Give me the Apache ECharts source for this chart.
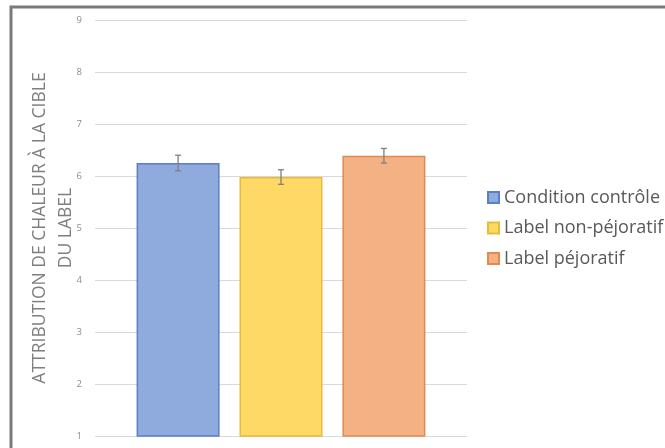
<!DOCTYPE html>
<html>
<head>
<meta charset="utf-8">
<script src="https://cdn.jsdelivr.net/npm/echarts@6/dist/echarts.min.js"></script>
<style>html,body{margin:0;padding:0;background:#fff}#c{width:665px;height:448px}</style>
</head>
<body>
<div id="c"></div>
<script>
const categories = [''];
const seriesNames = ['Condition contrôle', 'Label non-péjoratif', 'Label péjoratif'];
const means = [6.25, 5.98, 6.39];
const errors = [0.15, 0.14, 0.14];
const yTicks = [1, 9, 1]; // min, max, interval
const fills = ['#8faadc', '#ffd966', '#f4b183'];
const borders = ['#5a7fc6', '#e4bb3a', '#e08a52'];

const chart = echarts.init(document.getElementById('c'), null, {renderer: 'canvas'});
const BW = 83, GAP = '24%';

const barSeries = seriesNames.map((n, i) => ({
  name: n, type: 'bar', data: [means[i]],
  barWidth: BW, barGap: GAP,
  itemStyle: {color: fills[i], borderColor: borders[i], borderWidth: 1.5},
  z: 2
}));

const errSeries = {
  type: 'custom', name: 'err', z: 5, silent: true,
  data: means.map((m, i) => [i, m - errors[i], m + errors[i]]),
  renderItem: function (params, api) {
    const i = api.value(0);
    const lo = api.value(1), hi = api.value(2);
    const layout = api.barLayout({count: 3, barWidth: BW, barGap: GAP});
    const base = api.coord([0, lo]);
    const top = api.coord([0, hi]);
    const x = base[0] + layout[i].offsetCenter;
    const cap = 3;
    const st = {stroke: '#7f7f7f', lineWidth: 1.3};
    return {type: 'group', children: [
      {type: 'line', shape: {x1: x, y1: base[1], x2: x, y2: top[1]}, style: st},
      {type: 'line', shape: {x1: x - cap, y1: top[1], x2: x + cap, y2: top[1]}, style: st},
      {type: 'line', shape: {x1: x - cap, y1: base[1], x2: x + cap, y2: base[1]}, style: st}
    ]};
  }
};

chart.setOption({
  animation: false,
  backgroundColor: '#fff',
  graphic: [{type: 'rect', shape: {x: 11, y: 7, width: 720, height: 520},
    style: {fill: 'none', stroke: '#7a7a7a', lineWidth: 3}, z: 100}],
  grid: {left: 95, right: 198, top: 20, bottom: 12},
  legend: {
    orient: 'vertical', left: 482, top: 183.5, itemWidth: 11, itemHeight: 11, itemGap: 12.5,
    icon: 'rect', data: seriesNames,
    textStyle: {fontFamily: 'Open Sans', fontSize: 18, lineHeight: 18, color: '#595959'}
  },
  xAxis: {type: 'category', data: categories, axisLine: {show: false}, axisTick: {show: false}, axisLabel: {show: false}},
  yAxis: {
    type: 'value', min: yTicks[0], max: yTicks[1], interval: yTicks[2],
    axisLine: {show: false}, axisTick: {show: false},
    axisLabel: {color: '#8c8c8c', fontSize: 9.5, fontFamily: 'Open Sans', margin: 13},
    splitLine: {lineStyle: {color: '#d9d9d9', width: 1}},
    name: 'ATTRIBUTION DE CHALEUR À LA CIBLE\nDU LABEL',
    nameLocation: 'middle', nameRotate: 90, nameGap: 16, nameMoveOverlap: false,
    nameTextStyle: {fontFamily: 'Open Sans', fontSize: 17.5, color: '#7f7f7f', lineHeight: 26, align: 'center'}
  },
  series: [...barSeries, errSeries]
});
</script>
</body>
</html>
